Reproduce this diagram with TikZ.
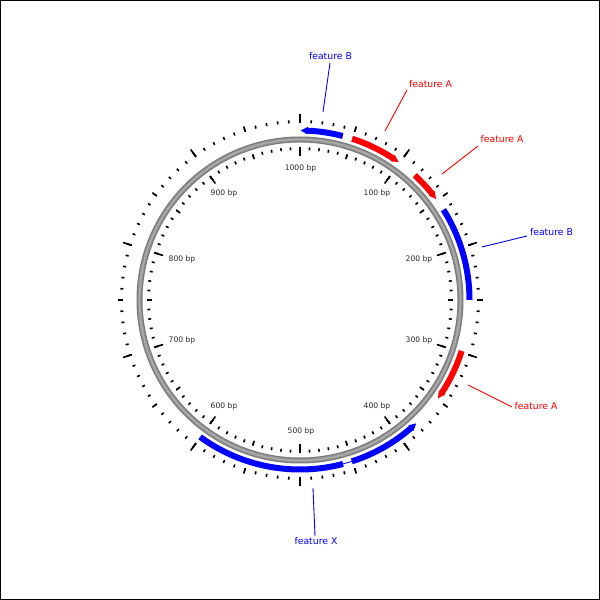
\documentclass[tikz,border=0pt]{standalone}
\usepackage{fontspec}
\setmainfont{DejaVu Sans}
\definecolor{fblue}{RGB}{0,0,255}
\definecolor{fred}{RGB}{255,0,0}
\definecolor{scaletxt}{RGB}{40,40,40}
% clockwise feature, arrow tip at end angle
\newcommand\featcw[3]{%
  \pgfmathsetmacro\fSa{90-#2}\pgfmathsetmacro\fEa{90-#3}\pgfmathsetmacro\fHa{90-#3+2.4}%
  \fill[#1] (\fSa:172.5) arc[start angle=\fSa,end angle=\fHa,radius=172.5]
    -- (\fHa:173.3) -- (\fEa:169.5) -- (\fHa:165.7) -- (\fHa:166.5)
    arc[start angle=\fHa,end angle=\fSa,radius=166.5] -- cycle;}
% counterclockwise feature, arrow tip at start angle (#2)
\newcommand\featccw[3]{%
  \pgfmathsetmacro\fSa{90-#2}\pgfmathsetmacro\fEa{90-#3}\pgfmathsetmacro\fHa{90-#2-2.4}%
  \fill[#1] (\fEa:172.5) arc[start angle=\fEa,end angle=\fHa,radius=172.5]
    -- (\fHa:173.3) -- (\fSa:169.5) -- (\fHa:165.7) -- (\fHa:166.5)
    arc[start angle=\fHa,end angle=\fEa,radius=166.5] -- cycle;}
% feature without arrow
\newcommand\featplain[3]{%
  \pgfmathsetmacro\fSa{90-#2}\pgfmathsetmacro\fEa{90-#3}%
  \fill[#1] (\fSa:172.5) arc[start angle=\fSa,end angle=\fEa,radius=172.5]
    -- (\fEa:166.5) arc[start angle=\fEa,end angle=\fSa,radius=166.5] -- cycle;}
\tikzset{
  scalelbl/.style={text=scaletxt,font=\fontsize{7.6}{9}\selectfont,inner sep=0pt},
  featlbl/.style={font=\fontsize{9.3}{11}\selectfont,inner sep=0pt},
  tick/.style={line width=1.6pt,line cap=butt,black},
  leader/.style={line width=0.9pt}
}
\begin{document}
\begin{tikzpicture}[x=1pt,y=1pt]
\useasboundingbox (0,0) rectangle (600,600);
\fill[white] (0,0) rectangle (600,600);
\draw[line width=1.2pt,black] (0.6,0.6) rectangle (599.4,599.4);

\begin{scope}[shift={(300,300)}]
  % backbone
  \draw[line width=6pt,gray!95!black] (0,0) circle[radius=160.5];
  \draw[line width=3.6pt,gray!85] (0,0) circle[radius=160.5];
  \draw[line width=1.4pt,gray!65] (0,0) circle[radius=160.5];
  % ticks
  \foreach \i in {0,...,99}{
    \pgfmathsetmacro\ta{90-3.6*\i}
    \draw[tick] (\ta:177) -- (\ta:180);
    \draw[tick] (\ta:150) -- (\ta:153);
  }
  \foreach \i in {0,...,19}{
    \pgfmathsetmacro\ta{90-18*\i}
    \draw[tick] (\ta:177) -- (\ta:182.5);
    \draw[tick] (\ta:148) -- (\ta:153);
  }
  \foreach \i in {0,...,9}{
    \pgfmathsetmacro\ta{90-36*\i}
    \draw[tick] (\ta:177) -- (\ta:186);
    \draw[tick] (\ta:144) -- (\ta:153);
  }
  % features
  \featccw{fblue}{0.2}{14.6}
  \featcw{fred}{17.9}{35.6}
  \featcw{fred}{42.6}{53.4}
  \featplain{fblue}{57.8}{90}
  \featcw{fred}{107.5}{125.5}
  \featccw{fblue}{136.7}{162.2}
  \draw[fblue,line width=0.8pt] ({90-162.2}:169.5) arc[start angle={90-162.2},end angle={90-165.3},radius=169.5];
  \featplain{fblue}{165.3}{216.1}
\end{scope}

% scale labels
\node[scalelbl] (s1000) at (300.5,432) {1000 bp};
\node[scalelbl] (s100) at (377,407) {100 bp};
\node[scalelbl] (s200) at (419,341) {200 bp};
\node[scalelbl] (s300) at (419,260) {300 bp};
\node[scalelbl] (s400) at (377,194) {400 bp};
\node[scalelbl] (s500) at (301,169) {500 bp};
\node[scalelbl] (s600) at (224,194) {600 bp};
\node[scalelbl] (s700) at (182,260) {700 bp};
\node[scalelbl] (s800) at (182,341) {800 bp};
\node[scalelbl] (s900) at (224,407) {900 bp};

% feature labels and leaders
\node[featlbl,text=fblue] (lB1) at (330.5,544) {feature B};
\node[featlbl,text=fred] (lA1) at (430.5,516) {feature A};
\node[featlbl,text=fred] (lA2) at (502,461) {feature A};
\node[featlbl,text=fblue] (lB2) at (551.5,368) {feature B};
\node[featlbl,text=fred] (lA3) at (536,194) {feature A};
\node[featlbl,text=fblue] (lX) at (316,59) {feature X};

\coordinate (cB1a) at (330,537); \coordinate (cB1b) at (323,488);
\coordinate (cA1a) at (407,510); \coordinate (cA1b) at (385,469);
\coordinate (cA2a) at (478,454); \coordinate (cA2b) at (442,426);
\coordinate (cB2a) at (527,364); \coordinate (cB2b) at (482,353);
\coordinate (cA3a) at (512,193); \coordinate (cA3b) at (468,215);
\coordinate (cXa) at (315,64); \coordinate (cXb) at (313,112);

\draw[leader,fblue] (cB1a) -- (cB1b);
\draw[leader,fred] (cA1a) -- (cA1b);
\draw[leader,fred] (cA2a) -- (cA2b);
\draw[leader,fblue] (cB2a) -- (cB2b);
\draw[leader,fred] (cA3a) -- (cA3b);
\draw[leader,fblue] (cXa) -- (cXb);
\end{tikzpicture}
\end{document}
